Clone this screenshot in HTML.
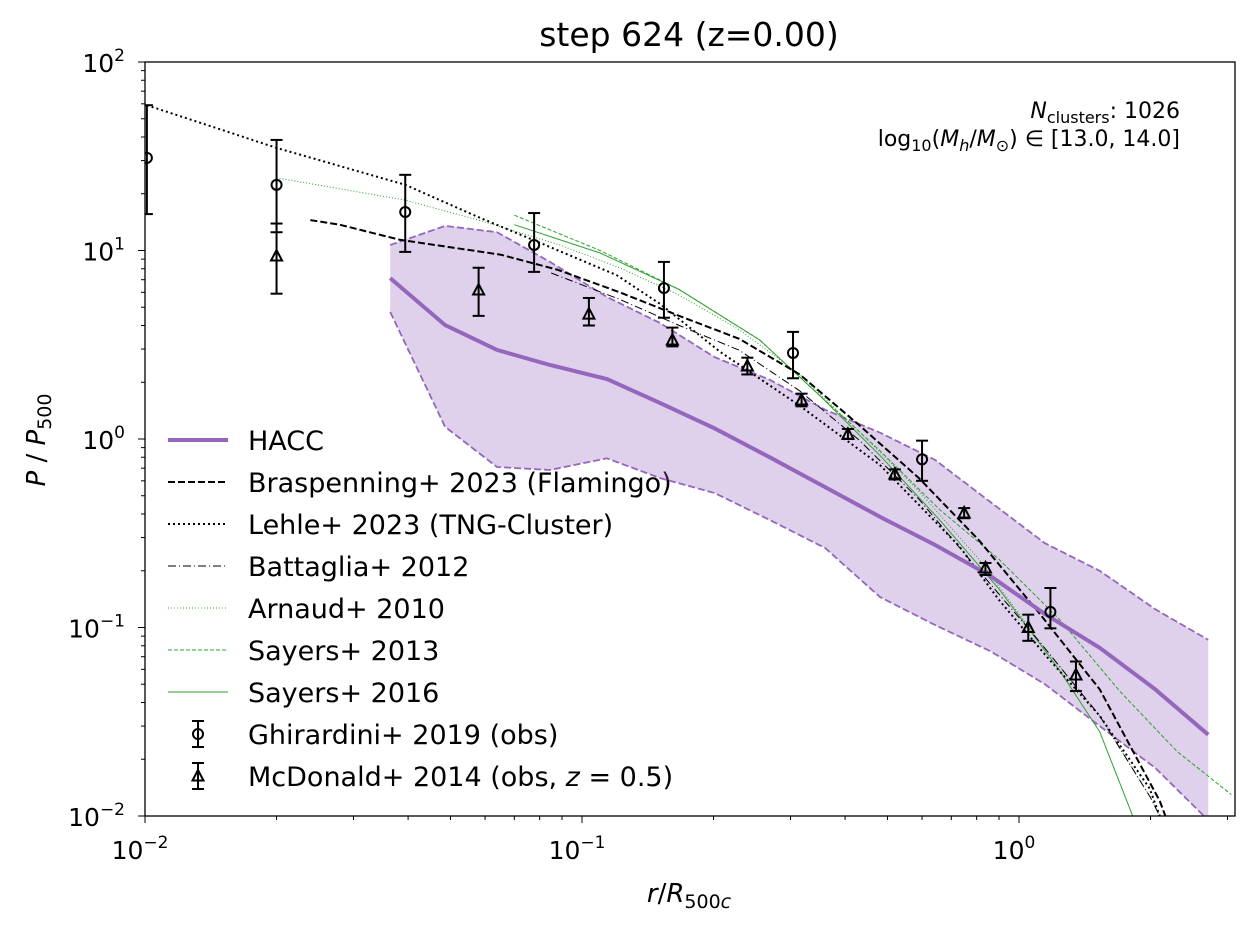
<!DOCTYPE html>
<html><head><meta charset="utf-8"><style>
body{margin:0;background:#fff;}
svg{display:block;font-family:"DejaVu Sans","Liberation Sans",sans-serif;}
</style></head><body>
<svg id="chart" width="1255" height="927">
<text x="689" y="46" font-size="33" text-anchor="middle">step 624 (z=0.00)</text>
<text x="689" y="902" font-size="26" text-anchor="middle"><tspan font-style="italic">r</tspan>/<tspan font-style="italic">R</tspan><tspan font-size="19" dy="6">500<tspan font-style="italic">c</tspan></tspan></text>
<text transform="translate(45,440) rotate(-90)" font-size="26" text-anchor="middle"><tspan font-style="italic">P</tspan> / <tspan font-style="italic">P</tspan><tspan font-size="19" dy="6">500</tspan></text>
<text x="1180" y="118" font-size="22" text-anchor="end"><tspan font-style="italic">N</tspan><tspan font-size="16" dy="5">clusters</tspan><tspan dy="-5">: 1026</tspan></text>
<text x="1180" y="146" font-size="22" text-anchor="end">log<tspan font-size="16" dy="5">10</tspan><tspan dy="-5">(</tspan><tspan font-style="italic">M</tspan><tspan font-size="16" dy="5" font-style="italic">h</tspan><tspan dy="-5">/</tspan><tspan font-style="italic">M</tspan><tspan font-size="16" dy="5">⊙</tspan><tspan dy="-5">) ∈ [13.0, 14.0]</tspan></text>
<g id="legend" font-size="27"></g>
</svg>
<script>
const haccR=[0.0364,0.0486,0.0639,0.0845,0.114,0.151,0.201,0.269,0.360,0.481,0.643,0.859,1.146,1.53,2.05,2.71];
const haccMed=[7.14,4.02,2.97,2.47,2.08,1.55,1.14,0.80,0.556,0.386,0.274,0.188,0.118,0.078,0.047,0.027];
const haccHi=[10.7,13.5,12.5,8.7,5.67,4.12,2.72,2.06,1.43,1.08,0.774,0.464,0.28,0.2,0.125,0.086];
const haccLo=[4.72,1.16,0.71,0.685,0.79,0.62,0.517,0.372,0.264,0.145,0.103,0.075,0.05,0.03,0.018,0.0095];
const brasR=[0.0239,0.0279,0.0383,0.0652,0.088,0.122,0.167,0.229,0.315,0.43,0.59,0.81,1.11,1.53,2.1,2.2];
const brasP=[14.5,13.7,11.4,9.5,7.9,6.0,4.5,3.4,2.2,1.19,0.62,0.29,0.12,0.047,0.012,0.009];
const lehleR=[0.0101,0.02,0.0394,0.0585,0.08,0.12,0.151,0.207,0.315,0.48,0.73,0.9,1.17,1.53,1.99,2.1];
const lehleP=[59,35,22.3,14.9,11,7.4,5.2,2.9,1.5,0.73,0.27,0.14,0.068,0.034,0.014,0.01];
const battR=[0.085,0.122,0.167,0.229,0.315,0.43,0.59,0.81,1.11,1.53,2.0,2.2];
const battP=[7.6,5.5,4.0,2.96,1.8,0.99,0.48,0.2,0.085,0.034,0.0125,0.008];
const arnR=[0.02,0.0394,0.058,0.089,0.122,0.167,0.229,0.315,0.43,0.59,0.81,1.11,1.53,2.0,2.2];
const arnP=[24.3,18.5,14.5,10.7,8.1,5.8,3.8,2.2,1.1,0.53,0.23,0.085,0.034,0.0125,0.008];
const say13R=[0.07,0.11,0.167,0.255,0.35,0.48,0.66,0.9,1.24,1.7,2.3,3.06];
const say13P=[15.4,10,6.2,3.35,1.7,0.87,0.42,0.23,0.11,0.046,0.022,0.013];
const say16R=[0.07,0.11,0.167,0.255,0.35,0.48,0.66,0.9,1.24,1.53,1.82,1.9];
const say16P=[13.7,9.7,6.2,3.35,1.7,0.82,0.37,0.16,0.059,0.028,0.01,0.008];
const ghiR=[0.0101,0.02,0.0394,0.0777,0.154,0.304,0.600,1.18];
const ghiP=[31.0,22.3,16.0,10.7,6.32,2.86,0.78,0.121];
const ghiLo=[15.6,12.5,9.83,7.7,4.4,2.1,0.6,0.099];
const ghiHi=[59,38.6,25.2,15.8,8.7,3.7,0.98,0.162];
const mcdR=[0.02,0.058,0.1037,0.161,0.239,0.318,0.406,0.520,0.749,0.838,1.05,1.35];
const mcdP=[9.35,6.17,4.6,3.35,2.44,1.61,1.06,0.652,0.405,0.207,0.1,0.056];
const mcdLo=[5.9,4.5,4.0,3.1,2.2,1.49,1.0,0.61,0.38,0.19,0.085,0.046];
const mcdHi=[13.9,8.1,5.6,3.9,2.7,1.74,1.13,0.69,0.43,0.22,0.117,0.066];
const xTicks=[0.01,0.1,1];
const xTickExp=["−2","−1","0"];
const yTicks=[0.01,0.1,1,10,100];
const yTickExp=["−2","−1","0","1","2"];
const legendLabels=["HACC","Braspenning+ 2023 (Flamingo)","Lehle+ 2023 (TNG-Cluster)","Battaglia+ 2012","Arnaud+ 2010","Sayers+ 2013","Sayers+ 2016","Ghirardini+ 2019 (obs)","McDonald+ 2014 (obs, z = 0.5)"];

const NS="http://www.w3.org/2000/svg";
const svg=document.getElementById('chart');
const L=145,R=1235,T=62,B=816;
const X=v=>L+(Math.log10(v)+2)*437;
const Y=v=>T+(2-Math.log10(v))*188.5;
function mk(tag,attrs,parent){const e=document.createElementNS(NS,tag);for(const k in attrs)e.setAttribute(k,attrs[k]);(parent||svg).appendChild(e);return e;}
const defs=mk('defs',{});
const cp=mk('clipPath',{id:'clip'},defs);mk('rect',{x:L,y:T,width:R-L,height:B-T},cp);
const g=mk('g',{'clip-path':'url(#clip)'});


function pts(xs,ys){return xs.map((x,i)=>X(x).toFixed(1)+','+Y(ys[i]).toFixed(1)).join(' ');}
const band=mk('polygon',{points:pts(haccR,haccHi)+' '+pts(haccR.slice().reverse(),haccLo.slice().reverse()),fill:'#9467bd','fill-opacity':0.3,stroke:'none'},g);


const styles={
 hacc:{stroke:'#9467bd','stroke-width':4},
 bras:{stroke:'#000','stroke-width':2,'stroke-dasharray':'7,3'},
 lehle:{stroke:'#000','stroke-width':2,'stroke-dasharray':'2,3'},
 batt:{stroke:'#000','stroke-width':1,'stroke-dasharray':'8,3,1,3'},
 arn:{stroke:'#2ca02c','stroke-width':1,'stroke-dasharray':'1,2'},
 say13:{stroke:'#2ca02c','stroke-width':1,'stroke-dasharray':'4,2'},
 say16:{stroke:'#2ca02c','stroke-width':1}
};
function line(xs,ys,st,name){const e=mk('polyline',Object.assign({points:pts(xs,ys),fill:'none'},st),g);

return e;}
line(haccR,haccHi,{stroke:'#9467bd','stroke-width':1.8,'stroke-dasharray':'7,3'},'hacc-upper');
line(haccR,haccLo,{stroke:'#9467bd','stroke-width':1.8,'stroke-dasharray':'7,3'},'hacc-lower');
line(say16R,say16P,styles.say16,'sayers2016-line');
line(say13R,say13P,styles.say13,'sayers2013-line');
line(arnR,arnP,styles.arn,'arnaud2010-line');
line(battR,battP,styles.batt,'battaglia2012-line');
line(lehleR,lehleP,styles.lehle,'lehle2023-line');
line(brasR,brasP,styles.bras,'braspenning2023-line');
line(haccR,haccMed,styles.hacc,'hacc-median');
function errbarPx(px,y1,y2,parent,name){const e=mk('g',{stroke:'#000','stroke-width':2},parent);


mk('line',{x1:px,x2:px,y1:y1,y2:y2},e);
mk('line',{x1:px-6,x2:px+6,y1:y1,y2:y1},e);mk('line',{x1:px-6,x2:px+6,y1:y2,y2:y2},e);}
function circ(x,y,parent){const c=mk('circle',{cx:x,cy:y,r:5,fill:'none',stroke:'#000','stroke-width':2},parent);

}
function tri(x,y,parent){const t=mk('polygon',{points:`${x},${y-6} ${x-5.5},${y+4.5} ${x+5.5},${y+4.5}`,fill:'none',stroke:'#000','stroke-width':2},parent);

}
ghiR.forEach((r,i)=>{errbarPx(X(r),Y(ghiLo[i]),Y(ghiHi[i]),g,'ghirardini-errorbar');circ(X(r),Y(ghiP[i]),g);});
mcdR.forEach((r,i)=>{errbarPx(X(r),Y(mcdLo[i]),Y(mcdHi[i]),g,'mcdonald-errorbar');tri(X(r),Y(mcdP[i]),g);});
const fr=mk('rect',{x:L,y:T,width:R-L,height:B-T,fill:'none',stroke:'#000','stroke-width':1.3});


for(let d=-2;d<=0;d++){for(let m=1;m<10;m++){const v=m*Math.pow(10,d);const px=X(v);if(px>R)break;
mk('line',{x1:px,x2:px,y1:B,y2:B+(m==1?7:4),stroke:'#000','stroke-width':1});}}
for(let d=-2;d<=1;d++){for(let m=1;m<10;m++){const v=m*Math.pow(10,d);
mk('line',{x1:L,x2:L-(m==1?7:4),y1:Y(v),y2:Y(v),stroke:'#000','stroke-width':1});}}
mk('line',{x1:L,x2:L-7,y1:Y(100),y2:Y(100),stroke:'#000'});
xTicks.forEach((v,i)=>{const t=mk('text',{x:X(v)-5,y:B+43,'font-size':25,'text-anchor':'middle'});


t.innerHTML='10<tspan dy="-11" font-size="17">'+xTickExp[i]+'</tspan>';});
yTicks.forEach((v,i)=>{const t=mk('text',{x:L-20,y:Y(v)+10,'font-size':25,'text-anchor':'end'});


t.innerHTML='10<tspan dy="-11" font-size="17">'+yTickExp[i]+'</tspan>';});
const lg=document.getElementById('legend');
const lstyles=[styles.hacc,styles.bras,styles.lehle,styles.batt,styles.arn,styles.say13,styles.say16];
legendLabels.forEach((lab,i)=>{const y=440+i*42;
const e=mk('g',{},lg);


if(i<7){mk('line',Object.assign({x1:168,x2:228,y1:y,y2:y},lstyles[i]),e);}
else{errbarPx(198,y-13,y+13,e,'legend-errorbar');if(i==7)circ(198,y,e);else tri(198,y,e);}
const t=mk('text',{x:248,y:y+10},e);
if(i==8)t.innerHTML='McDonald+ 2014 (obs, <tspan font-style="italic">z</tspan> = 0.5)';else t.textContent=lab;});
</script>
</body></html>
